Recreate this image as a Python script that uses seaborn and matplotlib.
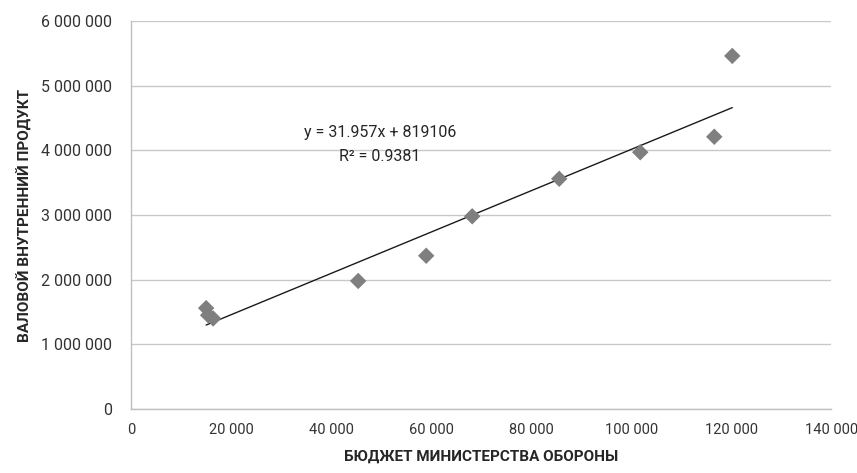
import numpy as np
import pandas as pd
import matplotlib
matplotlib.use("Agg")
import matplotlib.pyplot as plt
import seaborn as sns
from matplotlib.ticker import FuncFormatter, MultipleLocator

# Бюджет министерства обороны и ВВП
budget = [15000, 15400, 16400, 45400, 59000, 68200, 85600, 101800, 116600, 120200]
gdp = [1560000, 1450000, 1400000, 1980000, 2370000, 2980000, 3560000, 3970000, 4210000, 5460000]

slope = 31.957
intercept = 819106
r2 = 0.9381

df = pd.DataFrame({"budget": budget, "gdp": gdp})

sns.set_theme(style="white")
plt.rcParams['font.family'] = ['Roboto', 'DejaVu Sans']

fig = plt.figure(figsize=(8.57, 4.73), dpi=100)
ax = fig.add_axes([0.153, 0.1353, 0.817, 0.8203])

sns.scatterplot(x="budget", y="gdp", data=df, marker="D", s=70, color="#7f7f7f",
                edgecolor="none", ax=ax, zorder=3)

# линия тренда
xs = np.array([min(budget), max(budget)])
ax.plot(xs, slope * xs + intercept, color="#1a1a1a", lw=1.0, zorder=2)

ax.text(49800, 4270000, f"y = {slope}x + {intercept}", ha="center", va="center",
        fontsize=11.5, color="#262626")
ax.text(49800, 3900000, f"R² = {r2}", ha="center", va="center",
        fontsize=11.5, color="#262626")

ax.set_xlim(0, 140000)
ax.set_ylim(0, 6000000)
ax.xaxis.set_major_locator(MultipleLocator(20000))
ax.yaxis.set_major_locator(MultipleLocator(1000000))
fmt = FuncFormatter(lambda v, p: f"{v:,.0f}".replace(",", " "))
ax.xaxis.set_major_formatter(fmt)
ax.yaxis.set_major_formatter(fmt)

ax.grid(axis="y", color="#c8c8c8", lw=1.0)
ax.set_axisbelow(True)
for side in ["top", "right"]:
    ax.spines[side].set_visible(False)
for side in ["left", "bottom"]:
    ax.spines[side].set_color("#bfbfbf")
    ax.spines[side].set_linewidth(1.0)

ax.tick_params(axis="both", length=0, labelcolor="#333333")
ax.tick_params(axis="x", pad=10, labelsize=10.5)
ax.tick_params(axis="y", pad=14, labelsize=11.5)

ax.set_xlabel("БЮДЖЕТ МИНИСТЕРСТВА ОБОРОНЫ", fontsize=11, fontweight="bold",
              color="#262626", labelpad=9)
ax.set_ylabel("ВАЛОВОЙ ВНУТРЕННИЙ ПРОДУКТ", fontsize=11, fontweight="bold",
              color="#262626", labelpad=6)

fig.savefig("out.png", dpi=100)
plt.close(fig)
